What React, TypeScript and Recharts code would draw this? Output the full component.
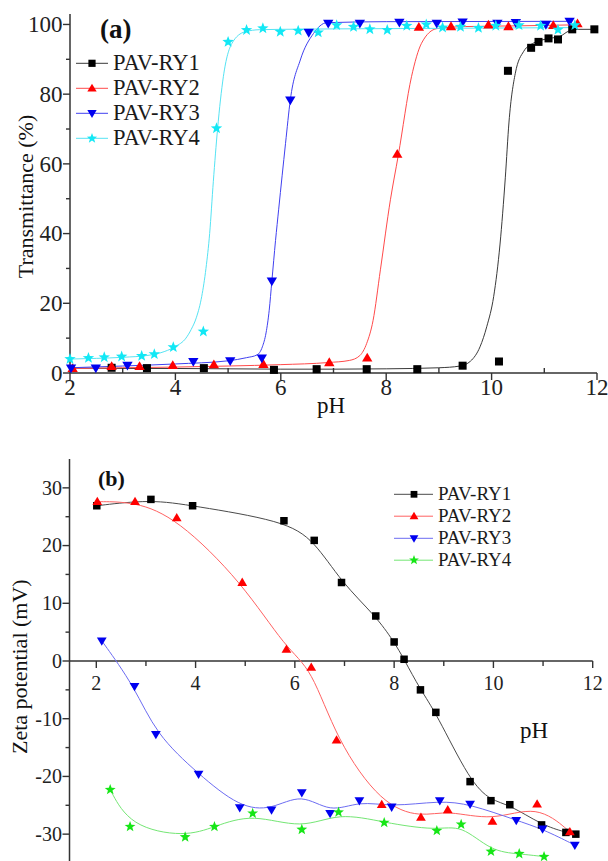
import React from 'react';
import { LineChart, Line, XAxis, YAxis, ReferenceLine } from 'recharts';

// ---------- (a) transmittance vs pH : measured points ----------
const A_RY1 = [
  [2.79, 1.5], [3.46, 1.4], [4.54, 1.4], [5.87, 0.9], [6.68, 1.1], [7.63, 1.1], [8.59, 1.1],
  [9.45, 2.1], [10.14, 3.3], [10.31, 86.7], [10.75, 93.3], [10.89, 95.0], [11.08, 96.0],
  [11.26, 95.7], [11.53, 98.6], [11.95, 98.6],
];
const A_RY2 = [
  [2.05, 1.3], [2.79, 1.9], [3.32, 1.9], [3.95, 2.2], [4.73, 2.4], [5.67, 2.5], [6.92, 3.0],
  [7.64, 4.3], [8.21, 62.8], [8.62, 99.2], [9.23, 99.4], [9.94, 99.9], [10.32, 99.4],
  [11.17, 99.7], [11.63, 100.2],
];
const A_RY3 = [
  [2.02, 1.4], [2.49, 1.4], [3.09, 2.2], [4.34, 3.3], [5.04, 3.5], [5.64, 4.3], [5.83, 26.4],
  [6.18, 78.3], [6.53, 97.7], [6.9, 100.3], [7.5, 100.3], [8.25, 100.6], [8.96, 100.3],
  [9.45, 100.7], [10.11, 100.3], [10.46, 100.5], [11.03, 100.0], [11.48, 100.9],
];
const A_RY4 = [
  [2.0, 4.0], [2.35, 4.3], [2.65, 4.5], [2.98, 4.7], [3.36, 4.9], [3.6, 5.4], [3.96, 7.4],
  [4.53, 11.9], [4.78, 70.2], [5.0, 95.0], [5.35, 98.4], [5.66, 98.9], [5.99, 97.9],
  [6.33, 98.2], [6.71, 97.7], [7.06, 99.8], [7.38, 99.3], [7.69, 98.6], [8.02, 98.4],
  [8.39, 99.6], [8.76, 100.0], [9.07, 99.1], [9.41, 99.3], [9.75, 99.0], [10.08, 99.6],
  [10.52, 99.8], [10.93, 99.6], [11.26, 98.5], [11.58, 99.8],
];

// ---------- (a) fitted sigmoid curves ----------
const A_FIT1 = [
  [2, 1.4], [3, 1.3], [4, 1.3], [5, 1.2], [6, 1.1], [7, 1.1], [8, 1.2], [9, 1.5], [9.4, 2.0],
  [9.6, 3.4], [9.78, 7.5], [9.91, 13.4], [10.04, 22], [10.16, 37], [10.26, 56], [10.33, 72],
  [10.45, 86], [10.61, 92.3], [10.8, 94.7], [11.1, 96.0], [11.3, 96.6], [11.45, 98.0],
  [11.6, 98.6], [12, 98.6],
];
const A_FIT2 = [
  [2, 1.3], [3, 1.5], [4, 1.7], [5, 2.0], [6, 2.4], [6.9, 3.0], [7.3, 3.6], [7.5, 5.0],
  [7.63, 8.5], [7.75, 15], [7.89, 29.6], [8.08, 49.7], [8.23, 62.5], [8.48, 85], [8.67, 94.6],
  [8.96, 98.8], [9.5, 99.4], [10.5, 99.6], [11.63, 99.9],
];
const A_FIT3 = [
  [2, 1.5], [3, 2.0], [4, 2.6], [5, 3.5], [5.35, 4.4], [5.55, 5.2], [5.65, 7.5], [5.72, 11.5],
  [5.78, 18], [5.83, 26.3], [5.9, 38], [5.96, 47], [6.09, 65.9], [6.18, 78.3], [6.37, 89.8],
  [6.62, 97.4], [6.87, 100.5], [8, 100.8], [11.48, 100.9],
];
const A_FIT4 = [
  [2, 4.0], [2.5, 4.2], [3, 4.5], [3.5, 5.1], [3.8, 6.2], [4.0, 7.6], [4.2, 10], [4.3, 12.5],
  [4.4, 16], [4.5, 22], [4.58, 30], [4.65, 40], [4.72, 55], [4.8, 70], [4.91, 85],
  [5.07, 94.5], [5.32, 97.9], [5.6, 98.5], [6, 98.6], [8, 98.8], [11.6, 99.1],
];

// ---------- (b) zeta potential vs pH ----------
const B_RY1 = [
  [2.01, 26.9], [3.1, 28.0], [3.94, 26.9], [5.78, 24.3], [6.39, 20.9], [6.94, 13.6], [7.63, 7.8],
  [8.0, 3.3], [8.2, 0.3], [8.53, -5.0], [8.84, -8.9], [9.53, -20.9], [9.95, -24.2],
  [10.33, -24.9], [10.97, -28.4], [11.46, -29.7], [11.66, -30.0],
];
const B_RY2 = [
  [2.02, 27.6], [2.78, 27.6], [3.62, 24.8], [4.94, 13.6], [5.83, 2.0], [6.33, -1.1],
  [6.84, -13.7], [7.75, -24.9], [8.54, -27.1], [9.08, -25.8], [9.98, -27.8], [10.88, -24.8],
  [11.54, -29.6],
];
const B_RY3 = [
  [2.11, 3.5], [2.77, -4.4], [3.2, -12.7], [4.06, -19.6], [4.89, -25.4], [5.53, -25.8],
  [6.14, -22.8], [6.71, -26.4], [7.3, -24.2], [7.95, -25.3], [8.92, -24.2], [9.53, -24.8],
  [10.46, -27.6], [10.99, -29.1], [11.64, -31.9],
];
const B_RY4 = [
  [2.28, -22.3], [2.68, -28.7], [3.79, -30.5], [4.38, -28.7], [5.15, -26.4], [6.14, -29.2],
  [6.88, -26.2], [7.8, -28.0], [8.86, -29.4], [9.35, -28.3], [9.95, -33.0], [10.52, -33.4],
  [11.02, -33.9],
];

const X_TICKS = [2, 3, 4, 5, 6, 7, 8, 9, 10, 11, 12];
const A_Y_TICKS = [0, 10, 20, 30, 40, 50, 60, 70, 80, 90, 100];
const B_Y_TICKS = [-30, -25, -20, -15, -10, -5, 0, 5, 10, 15, 20, 25, 30];
const SERIES_NAMES = ['PAV-RY1', 'PAV-RY2', 'PAV-RY3', 'PAV-RY4'];

const AXIS = '#333333';
const FONT = "'Liberation Serif', 'Times New Roman', serif";

// chart (b) geometry: the x axis sits at zeta = 0, i.e. the middle of the plot
const B_TOP = 420;
const B_HEIGHT = 444;
const B_MARGIN_TOP = 39;
const B_XAXIS_H = 1;
const B_ZERO_OFF = (B_HEIGHT - B_MARGIN_TOP - B_XAXIS_H) / 2;

type Shape = 'square' | 'up' | 'down' | 'star';

const toPts = (rows: number[][]) => rows.map(([x, y]) => ({ x, y }));

const starPoints = (cx: number, cy: number, R: number, r: number) =>
  Array.from({ length: 10 }, (_, i) => {
    const a = -Math.PI / 2 + (i * Math.PI) / 5;
    const rad = i % 2 === 0 ? R : r;
    return `${cx + rad * Math.cos(a)},${cy + rad * Math.sin(a)}`;
  }).join(' ');

const Marker = ({ cx, cy, shape, color, size }: any) => {
  if (cx == null || cy == null || isNaN(cx) || isNaN(cy)) return null;
  const s = size / 2;
  if (shape === 'square') {
    return <rect x={cx - s} y={cy - s} width={size} height={size} fill={color} />;
  }
  if (shape === 'up') {
    return (
      <polygon
        points={`${cx},${cy - s * 1.15} ${cx + s * 1.15},${cy + s * 0.8} ${cx - s * 1.15},${cy + s * 0.8}`}
        fill={color}
      />
    );
  }
  if (shape === 'down') {
    return (
      <polygon
        points={`${cx},${cy + s * 1.15} ${cx + s * 1.15},${cy - s * 0.8} ${cx - s * 1.15},${cy - s * 0.8}`}
        fill={color}
      />
    );
  }
  return <polygon points={starPoints(cx, cy, s * 1.2, s * 0.5)} fill={color} />;
};

const dotFor = (shape: Shape, color: string, size: number) => (p: any) => (
  <Marker key={`m-${p.index}`} cx={p.cx} cy={p.cy} shape={shape} color={color} size={size} />
);

// ---------- custom ticks ----------
const xTickA = (p: any) => {
  const v = p.payload.value;
  const major = v % 2 === 0;
  return (
    <g>
      <line x1={p.x} x2={p.x} y1={p.y} y2={major ? p.y + 7 : p.y - 5} stroke={AXIS} strokeWidth={1.4} />
      {major && (
        <text x={p.x} y={p.y + 14.5} dy="0.34em" textAnchor="middle" fontSize={23} style={{ fontFamily: FONT }} fill="#222">
          {v}
        </text>
      )}
    </g>
  );
};

const yTickA = (p: any) => {
  const v = p.payload.value;
  const major = v % 20 === 0;
  return (
    <g>
      <line x1={p.x} x2={p.x - (major ? 7 : 4)} y1={p.y} y2={p.y} stroke={AXIS} strokeWidth={1.4} />
      {major && (
        <text x={p.x - 7.5} y={p.y} dy="0.34em" textAnchor="end" fontSize={23} style={{ fontFamily: FONT }} fill="#222">
          {v}
        </text>
      )}
    </g>
  );
};

const xTickB = (p: any) => {
  const v = p.payload.value;
  const major = v % 2 === 0;
  const y0 = p.y - B_ZERO_OFF;
  return (
    <g>
      <line x1={p.x} x2={p.x} y1={y0} y2={y0 + (major ? 7 : 5)} stroke={AXIS} strokeWidth={1.4} />
      {major && (
        <text x={p.x} y={y0 + 22.5} dy="0.34em" textAnchor="middle" fontSize={20} style={{ fontFamily: FONT }} fill="#222">
          {v}
        </text>
      )}
    </g>
  );
};

const yTickB = (p: any) => {
  const v = p.payload.value;
  const major = v % 10 === 0;
  return (
    <g>
      <line x1={p.x} x2={p.x - (major ? 7 : 4)} y1={p.y} y2={p.y} stroke={AXIS} strokeWidth={1.4} />
      {major && (
        <text x={p.x - 7.5} y={p.y} dy="0.34em" textAnchor="end" fontSize={20} style={{ fontFamily: FONT }} fill="#222">
          {v}
        </text>
      )}
    </g>
  );
};

const A_STYLE = [
  { shape: 'square' as Shape, color: '#000000', line: '#3a3a3a', size: 8 },
  { shape: 'up' as Shape, color: '#ff0000', line: '#ff4a4a', size: 9 },
  { shape: 'down' as Shape, color: '#0000f0', line: '#4040f0', size: 9 },
  { shape: 'star' as Shape, color: '#12e8f5', line: '#55e3f3', size: 10 },
];
const B_STYLE = [
  { shape: 'square' as Shape, color: '#000000', line: '#4a4a4a', size: 7.5 },
  { shape: 'up' as Shape, color: '#ff0000', line: '#ff6262', size: 8.5 },
  { shape: 'down' as Shape, color: '#0000f0', line: '#6c6cf2', size: 8.5 },
  { shape: 'star' as Shape, color: '#16e616', line: '#74e674', size: 9.5 },
];

const A_POINTS = [A_RY1, A_RY2, A_RY3, A_RY4];
const A_FITS = [A_FIT1, A_FIT2, A_FIT3, A_FIT4];
const B_POINTS = [B_RY1, B_RY2, B_RY3, B_RY4];

const LegendBlock = ({ x0, lineX1, lineX2, markX, ys, fontSize, styles, base }: any) => (
  <g>
    {SERIES_NAMES.map((name, i) => (
      <g key={name}>
        <line x1={lineX1} x2={lineX2} y1={ys[i]} y2={ys[i]} stroke={styles[i].line} strokeWidth={1} />
        <Marker cx={markX} cy={ys[i]} shape={styles[i].shape} color={styles[i].color} size={styles[i].size * 0.9} />
        <text x={x0} y={ys[i] + base} fontSize={fontSize} style={{ fontFamily: FONT }} fill="#1a1a1a">
          {name}
        </text>
      </g>
    ))}
  </g>
);

export default function App() {
  return (
    <div
      style={{
        position: 'absolute',
        left: 0,
        top: 0,
        width: 608,
        height: 861,
        overflow: 'hidden',
        background: '#ffffff',
      }}
    >
      {/* (a) */}
      <div style={{ position: 'absolute', left: 0, top: 0 }}>
        <LineChart width={608} height={420} margin={{ top: 14, right: 11, bottom: 7, left: 10 }}>
          <XAxis
            type="number"
            dataKey="x"
            domain={[2, 12]}
            ticks={X_TICKS}
            interval={0}
            tickLine={false}
            tickSize={0}
            tickMargin={0}
            height={40}
            axisLine={{ stroke: AXIS, strokeWidth: 1.5 }}
            tick={xTickA}
          />
          <YAxis
            type="number"
            domain={[0, 103]}
            ticks={A_Y_TICKS}
            interval={0}
            tickLine={false}
            tickSize={0}
            tickMargin={0}
            width={60}
            axisLine={{ stroke: AXIS, strokeWidth: 1.5 }}
            tick={yTickA}
          />
          {A_FITS.map((rows, i) => (
            <Line
              key={`fit-${i}`}
              data={toPts(rows)}
              dataKey="y"
              type="monotone"
              stroke={A_STYLE[i].line}
              strokeWidth={1}
              dot={false}
              activeDot={false}
              isAnimationActive={false}
            />
          ))}
          {A_POINTS.map((rows, i) => (
            <Line
              key={`pts-${i}`}
              data={toPts(rows)}
              dataKey="y"
              stroke="none"
              dot={dotFor(A_STYLE[i].shape, A_STYLE[i].color, A_STYLE[i].size)}
              activeDot={false}
              isAnimationActive={false}
            />
          ))}
        </LineChart>
      </div>

      {/* (b) */}
      <div style={{ position: 'absolute', left: 0, top: B_TOP }}>
        <LineChart
          width={608}
          height={B_HEIGHT}
          margin={{ top: B_MARGIN_TOP, right: 15.3, bottom: 0, left: 9.5 }}
        >
          <XAxis
            type="number"
            dataKey="x"
            domain={[1.46, 12]}
            ticks={X_TICKS}
            interval={0}
            tickLine={false}
            tickSize={0}
            tickMargin={0}
            height={B_XAXIS_H}
            axisLine={false}
            tick={xTickB}
          />
          <YAxis
            type="number"
            domain={[-35, 35]}
            ticks={B_Y_TICKS}
            interval={0}
            tickLine={false}
            tickSize={0}
            tickMargin={0}
            width={60}
            axisLine={{ stroke: AXIS, strokeWidth: 1.5 }}
            tick={yTickB}
          />
          <ReferenceLine y={0} stroke={AXIS} strokeWidth={1.5} />
          {B_POINTS.map((rows, i) => (
            <Line
              key={`b-${i}`}
              data={toPts(rows)}
              dataKey="y"
              type="basis"
              stroke={B_STYLE[i].line}
              strokeWidth={1}
              dot={dotFor(B_STYLE[i].shape, B_STYLE[i].color, B_STYLE[i].size)}
              activeDot={false}
              isAnimationActive={false}
            />
          ))}
        </LineChart>
      </div>

      {/* titles, panel letters and legends */}
      <svg
        width={608}
        height={861}
        style={{ position: 'absolute', left: 0, top: 0, pointerEvents: 'none' }}
      >
        <text x={100} y={38} fontSize={27} fontWeight="bold" style={{ fontFamily: FONT }} fill="#111">
          (a)
        </text>
        <text x={331} y={413} fontSize={23} textAnchor="middle" style={{ fontFamily: FONT }} fill="#111">
          pH
        </text>
        <text
          x={33}
          y={196.5}
          fontSize={22}
          textAnchor="middle"
          style={{ fontFamily: FONT }}
          fill="#111"
          transform="rotate(-90 33 196.5)"
        >
          Transmittance (%)
        </text>
        <LegendBlock
          x0={113}
          lineX1={76}
          lineX2={108}
          markX={92}
          ys={[63.3, 88.3, 113.3, 138.3]}
          fontSize={22.5}
          base={6.5}
          styles={A_STYLE}
        />

        <text x={98} y={486} fontSize={22} fontWeight="bold" style={{ fontFamily: FONT }} fill="#111">
          (b)
        </text>
        <text x={534} y={738} fontSize={23} textAnchor="middle" style={{ fontFamily: FONT }} fill="#111">
          pH
        </text>
        <text
          x={27}
          y={666.7}
          fontSize={22}
          textAnchor="middle"
          style={{ fontFamily: FONT }}
          fill="#111"
          transform="rotate(-90 27 666.7)"
        >
          Zeta potential (mV)
        </text>
        <LegendBlock
          x0={438}
          lineX1={394}
          lineX2={433}
          markX={414}
          ys={[494.3, 516.2, 538.3, 560.2]}
          fontSize={19}
          base={6}
          styles={B_STYLE}
        />
      </svg>
    </div>
  );
}
